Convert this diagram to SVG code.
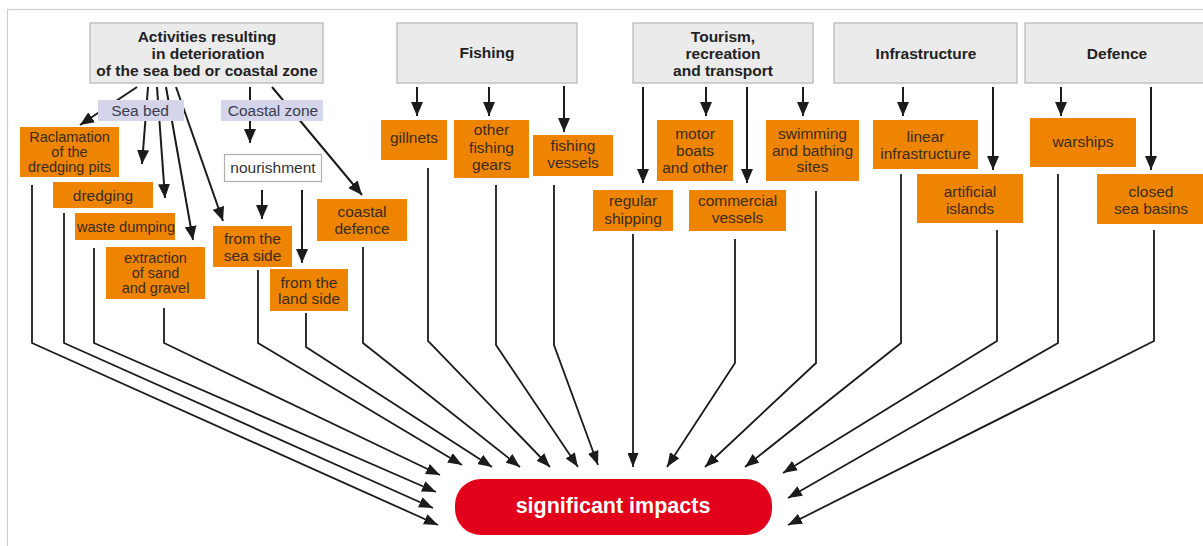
<svg xmlns="http://www.w3.org/2000/svg" width="1203" height="546" viewBox="0 0 1203 546">
<style>
text{font-family:"Liberation Sans",Arial,sans-serif;text-anchor:middle}
.hdr rect{fill:#ebebeb;stroke:#b5b5b5;stroke-width:1.2}
.hdr text{font-size:15.5px;font-weight:bold;fill:#222}
.org rect{fill:#ef8400}
.org text{font-size:15.5px;fill:#3a2c20}
.org text.t{font-size:14.5px}
.sub rect{fill:#d4d4ea}
.sub text{font-size:15.5px;fill:#3c3c50}
.wht rect{fill:#fff;stroke:#b0b0b0;stroke-width:1.2}
.wht text{font-size:15.5px;fill:#333}
.imp rect{fill:#e2001a}
.imp text{font-size:21.5px;font-weight:bold;fill:#fff}
.c path{fill:none;stroke:#1b1b1b;stroke-width:2;marker-end:url(#ah)}
.l path{fill:none;stroke:#1b1b1b;stroke-width:1.8;marker-end:url(#ah2)}
</style>
<defs>
<marker id="ah" markerUnits="userSpaceOnUse" markerWidth="14" markerHeight="12" refX="14" refY="6" orient="auto"><path d="M0,0 L14,6 L0,12 z" fill="#1b1b1b"/></marker>
<marker id="ah2" markerUnits="userSpaceOnUse" markerWidth="14" markerHeight="11" refX="14" refY="5.5" orient="auto"><path d="M0,0 L14,5.5 L0,11 z" fill="#1b1b1b"/></marker>
</defs>
<rect x="7.5" y="9.5" width="1220" height="570" fill="#fff" stroke="#cfcfcf" stroke-width="1.2"/>

<g id="connectors">
<g class="c">
<path d="M137,87 L80,125"/>
<path d="M148,87 L142,164"/>
<path d="M157,87 L165,198"/>
<path d="M166,87 L193,240"/>
<path d="M176,87 L223,221"/>
<path d="M250,87 L250,143"/>
<path d="M272,87 L362,195"/>
<path d="M262,190 L262,219"/>
<path d="M302,190 L302,263"/>
<path d="M417,87 L417,116"/>
<path d="M489,87 L489,116"/>
<path d="M564,86 L564,132"/>
<path d="M643,87 L643,183"/>
<path d="M706,87 L706,116"/>
<path d="M747,87 L747,183"/>
<path d="M803,87 L803,116"/>
<path d="M903,87 L903,116"/>
<path d="M993,87 L993,170"/>
<path d="M1061,87 L1061,116"/>
<path d="M1151,87 L1151,170"/>
</g>
<g class="l">
<path d="M32,185 L32,343 L438,525"/>
<path d="M64,213 L64,343 L433,508"/>
<path d="M94,248 L94,343 L436,492"/>
<path d="M164,308 L164,343 L440,475"/>
<path d="M258,270 L258,343 L462,465"/>
<path d="M306,313 L306,347 L492,467"/>
<path d="M363,247 L363,343 L520,467"/>
<path d="M428,168 L428,341 L550,467"/>
<path d="M496,185 L496,345 L578,467"/>
<path d="M554,185 L554,345 L598,465"/>
<path d="M633,234 L633,467"/>
<path d="M735,239 L735,363 L667,467"/>
<path d="M816,191 L816,363 L705,467"/>
<path d="M901,174 L901,343 L745,467"/>
<path d="M997,230 L997,341 L783,473"/>
<path d="M1058,174 L1058,343 L788,498"/>
<path d="M1154,230 L1154,341 L788,525"/>
</g>
</g>

<g id="h-activities" class="hdr"><rect x="90" y="23" width="233" height="60"/><text x="207" y="41.5">Activities resulting</text><text x="208" y="58.5">in deterioration</text><text x="207" y="76">of the sea bed or coastal zone</text></g>
<g id="h-fishing" class="hdr"><rect x="397" y="23" width="180" height="60"/><text x="487" y="58">Fishing</text></g>
<g id="h-tourism" class="hdr"><rect x="633" y="23" width="180" height="60"/><text x="723" y="41.5">Tourism,</text><text x="723" y="58.5">recreation</text><text x="723" y="76">and transport</text></g>
<g id="h-infra" class="hdr"><rect x="834" y="23" width="183" height="60"/><text x="926" y="58.5">Infrastructure</text></g>
<g id="h-defence" class="hdr"><rect x="1025" y="23" width="190" height="60"/><text x="1117" y="58.5">Defence</text></g>

<g id="seabed" class="sub"><rect x="98" y="100" width="86" height="21"/><text x="140" y="116">Sea bed</text></g>
<g id="coastalzone" class="sub"><rect x="221" y="100" width="102" height="21"/><text x="273" y="116">Coastal zone</text></g>
<g id="nourishment" class="wht"><rect x="224.5" y="154.5" width="97" height="27"/><text x="273" y="173">nourishment</text></g>

<g id="raclamation" class="org"><rect x="20" y="127" width="99" height="50"/><text class="t" x="69.5" y="142">Raclamation</text><text class="t" x="69.5" y="157">of the</text><text class="t" x="69.5" y="172">dredging pits</text></g>
<g id="dredging" class="org"><rect x="53" y="182" width="100" height="26"/><text x="103" y="201">dredging</text></g>
<g id="waste" class="org"><rect x="75" y="213" width="100" height="27"/><text x="126" y="232" style="font-size:14.6px">waste dumping</text></g>
<g id="extraction" class="org"><rect x="106" y="247" width="99" height="52"/><text class="t" x="155.5" y="262.5">extraction</text><text class="t" x="155.5" y="277.5">of sand</text><text class="t" x="155.5" y="292.5">and gravel</text></g>
<g id="seaside" class="org"><rect x="213" y="226" width="79" height="41"/><text x="252.5" y="243.5">from the</text><text x="252.5" y="261">sea side</text></g>
<g id="landside" class="org"><rect x="270" y="269" width="78" height="42"/><text x="309" y="288">from the</text><text x="309" y="304">land side</text></g>
<g id="coastaldefence" class="org"><rect x="317" y="199" width="90" height="42"/><text x="362" y="217">coastal</text><text x="362" y="234">defence</text></g>

<g id="gillnets" class="org"><rect x="381" y="120" width="66" height="40"/><text x="414" y="143">gillnets</text></g>
<g id="othergears" class="org"><rect x="454" y="120" width="75" height="58"/><text x="491.5" y="135">other</text><text x="491.5" y="152.5">fishing</text><text x="491.5" y="170">gears</text></g>
<g id="fishingvessels" class="org"><rect x="533" y="135" width="80" height="41"/><text x="573" y="151">fishing</text><text x="573" y="168">vessels</text></g>

<g id="regularshipping" class="org"><rect x="593" y="190" width="80" height="41"/><text x="633" y="206">regular</text><text x="633" y="224">shipping</text></g>
<g id="motorboats" class="org"><rect x="657" y="120" width="76" height="61"/><text x="695" y="139">motor</text><text x="695" y="156">boats</text><text x="695" y="173">and other</text></g>
<g id="commercial" class="org"><rect x="689" y="190" width="97" height="41"/><text x="737.5" y="206">commercial</text><text x="737.5" y="223">vessels</text></g>
<g id="swimming" class="org"><rect x="766" y="120" width="93" height="61"/><text x="812.5" y="139">swimming</text><text x="812.5" y="155.5">and bathing</text><text x="812.5" y="172">sites</text></g>

<g id="linear" class="org"><rect x="873" y="120" width="105" height="49"/><text x="925.5" y="142">linear</text><text x="925.5" y="159">infrastructure</text></g>
<g id="artificial" class="org"><rect x="917" y="174" width="106" height="49"/><text x="970" y="197">artificial</text><text x="970" y="214">islands</text></g>

<g id="warships" class="org"><rect x="1030" y="118" width="106" height="49"/><text x="1083" y="147">warships</text></g>
<g id="closedbasins" class="org"><rect x="1097" y="174" width="110" height="50"/><text x="1151" y="197">closed</text><text x="1151" y="214">sea basins</text></g>

<g id="impacts" class="imp"><rect x="455" y="479" width="317" height="56" rx="26"/><text x="613" y="513">significant impacts</text></g>
</svg>
